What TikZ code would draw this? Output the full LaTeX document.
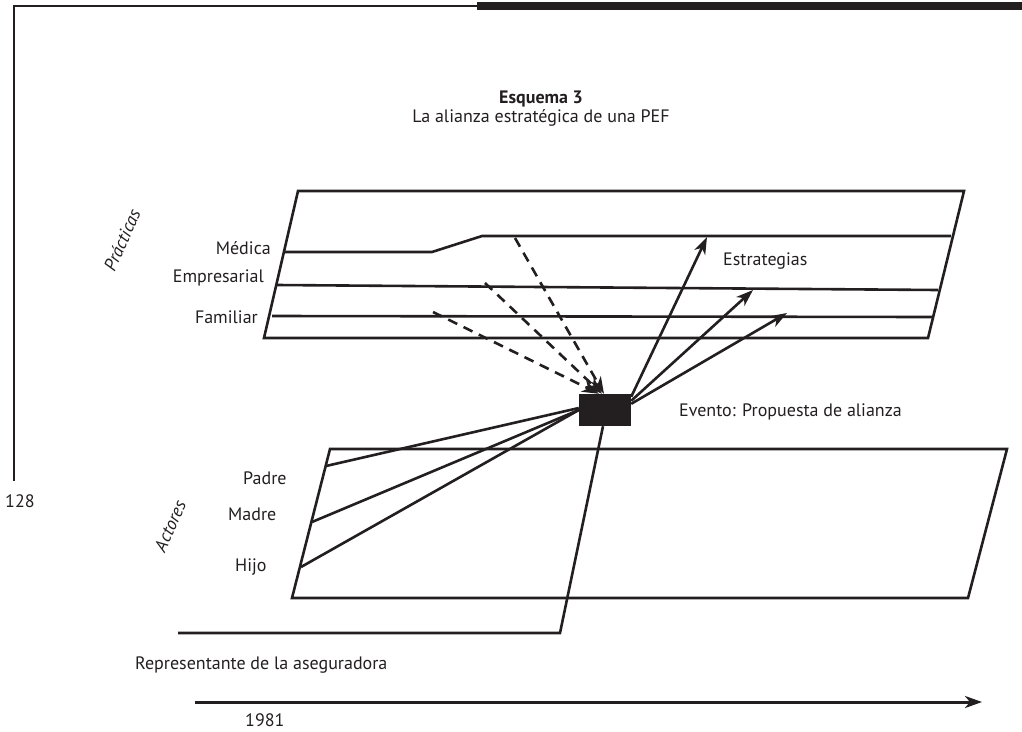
\documentclass[tikz,border=0pt]{standalone}
\usepackage{fontspec}
\setmainfont{PT Sans}
\usetikzlibrary{arrows.meta}
\definecolor{ink}{RGB}{35,31,32}
\begin{document}
\begin{tikzpicture}[x=1pt,y=-1pt,
  ln/.style={line width=2.6pt, draw=ink, line join=miter},
  tip/.tip={Stealth[length=17pt,width=12pt,inset=5pt]},
  arr/.style={ln, -tip},
  dsh/.style={ln, dash pattern=on 10pt off 7pt, -tip},
  lbl/.style={font=\fontsize{18}{21}\selectfont, inner sep=0pt, text=ink},
  evbox/.style={fill=ink, draw=none, minimum width=52pt, minimum height=32pt, inner sep=0pt},
]
\useasboundingbox (0,0) rectangle (1022,731);

% page frame
\draw[ln] (14,481) -- (14,6) -- (477,6);
\fill[ink] (477,2) rectangle (1022,10);
\node[lbl, anchor=west] (page) at (5,501) {128};

% title
\node[lbl, font=\fontsize{18}{21}\selectfont\bfseries] (tit) at (541,99) {Esquema 3};
\node[lbl] (sub) at (541,118) {La alianza estratégica de una PEF};

% plane of practices
\coordinate (pTL) at (298,191);
\coordinate (pTR) at (964,191);
\coordinate (pBR) at (928,338);
\coordinate (pBL) at (264,338);
\draw[ln] (pTL) -- (pTR) -- (pBR) -- (pBL) -- cycle;
\coordinate (medL) at (285,252);
\coordinate (medK) at (432,252);
\coordinate (medU) at (482,236);
\coordinate (medR) at (951,236);
\draw[ln] (medL) -- (medK) -- (medU) -- (medR);
\coordinate (empL) at (277,285);
\coordinate (empR) at (938,290);
\draw[ln] (empL) -- (empR);
\coordinate (famL) at (272,316);
\coordinate (famR) at (933,317);
\draw[ln] (famL) -- (famR);

\node[lbl, anchor=east] (med) at (271,248) {Médica};
\node[lbl, anchor=east] (emp) at (264,278) {Empresarial};
\node[lbl, anchor=east] (fam) at (258,317) {Familiar};
\node[lbl, rotate=66, font=\fontsize{18}{21}\selectfont\itshape] (prac) at (122,240) {Prácticas};
\node[lbl, anchor=west] (estr) at (723,261) {Estrategias};

% plane of actors
\coordinate (aTL) at (330,449);
\coordinate (aTR) at (1007,449);
\coordinate (aBR) at (968,598);
\coordinate (aBL) at (292,598);
\draw[ln] (aTL) -- (aTR) -- (aBR) -- (aBL) -- cycle;
\coordinate (pad) at (326,466);
\coordinate (mad) at (312,522);
\coordinate (hij) at (301,567);

\node[lbl, anchor=west] (padL) at (243,478) {Padre};
\node[lbl, anchor=west] (madL) at (228,514) {Madre};
\node[lbl, anchor=west] (hijL) at (235,567) {Hijo};
\node[lbl, rotate=66, font=\fontsize{18}{21}\selectfont\itshape] (act) at (170,526) {Actores};

% event
\node[evbox] (ev) at (605,410) {};
\node[lbl, anchor=west] (evl) at (679,412) {Evento: Propuesta de alianza};

% practices feeding the event
\coordinate (d1) at (515,238);
\coordinate (d2) at (485,283);
\coordinate (d3) at (433,312);
\draw[dsh] (d1) -- ([xshift=-1pt]ev.north);
\draw[dsh] (d2) -- ([xshift=-3pt]ev.north);
\draw[dsh] (d3) -- ([xshift=-6pt]ev.north);

% strategies
\coordinate (s1) at (707,237);
\coordinate (s2) at (753,290);
\coordinate (s3) at (787,313);
\draw[arr] ([yshift=-3pt]ev.north east) -- (s1);
\draw[arr] ([yshift=-7pt]ev.north east) -- (s2);
\draw[arr] ([yshift=-10pt]ev.north east) -- (s3);

% actors
\draw[ln] ([yshift=2pt]ev.west) -- (pad);
\draw[ln] (ev.west) -- (mad);
\draw[ln] (ev.west) -- (hij);

% insurer representative
\coordinate (repC) at (560,633);
\coordinate (repL) at (178,633);
\draw[ln] ([xshift=-2pt]ev.south) -- (repC) -- (repL);
\node[lbl, anchor=west] (rep) at (135,665) {Representante de la aseguradora};

% time axis
\coordinate (t0) at (195,702);
\coordinate (t1) at (982,702);
\draw[ln, line width=3pt, -tip] (t0) -- (t1);
\node[lbl, anchor=west] (yr) at (245,720) {1981};
\end{tikzpicture}
\end{document}
